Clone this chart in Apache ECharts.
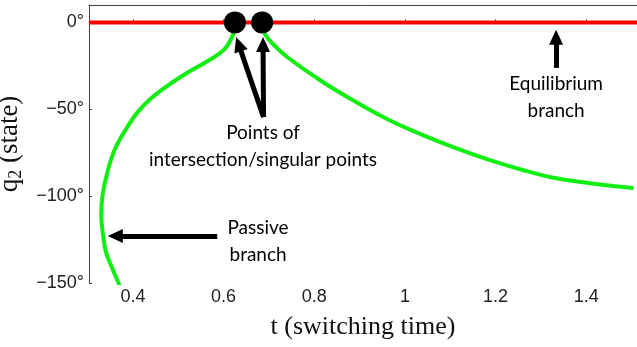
<!DOCTYPE html>
<html>
<head>
<meta charset="utf-8">
<script src="https://cdn.jsdelivr.net/npm/echarts@6/dist/echarts.min.js"></script>
<style>
  html, body { margin: 0; padding: 0; background: #fff; }
  #chart { width: 637px; height: 347px; }
</style>
</head>
<body>
<div id="chart"></div>
<script>
// ---- data ----
const xRange = [0.303, 1.512];
const yRange = [-150, 10];
const xTicks = [0.4, 0.6, 0.8, 1, 1.2, 1.4];
const yTicks = [-150, -100, -50, 0];

// passive branch (green, left part), ordered from bottom to the first singular point
const passiveBranch = [
  [0.372, -153], [0.368, -150], [0.354, -141.4], [0.340, -131.8], [0.333, -120.3],
  [0.330, -110.7], [0.333, -99.2], [0.344, -85.8], [0.360, -73], [0.387, -60.5],
  [0.410, -51.8], [0.439, -44], [0.476, -36.5], [0.520, -29], [0.564, -22.4],
  [0.601, -15.7], [0.620, -7.5], [0.625, -2]
];
// green right part, from the second singular point to the right edge
const rightBranch = [
  [0.686, -2], [0.692, -7.1], [0.714, -13.8], [0.743, -20.5], [0.817, -34],
  [0.890, -45.5], [0.964, -56], [1.037, -64.6], [1.111, -72.3], [1.184, -79],
  [1.258, -84.8], [1.331, -89.6], [1.404, -92.4], [1.504, -95.3]
];
// equilibrium branch (red)
const equilibriumBranch = [[0.303, 0], [1.512, 0]];
// singular points (black dots)
const singularPoints = [[0.625, 0], [0.685, 0]];

// annotation arrows: [from, to] in data coordinates
const arrows = [
  [[0.586, -122.9], [0.361, -122.9]],
  [[1.3335, -26.2], [1.3335, -8.5]],
  [[0.688, -54.5], [0.633, -12.5]],
  [[0.688, -54.5], [0.687, -12.7]]
];
// annotation texts: [t, q, text]
const notes = [
  [0.687, -71.6, 'Points of\nintersection/singular points'],
  [0.676, -126.3, 'Passive\nbranch'],
  [1.3335, -43.1, 'Equilibrium\nbranch']
];

const axisColor = '#444';
const fmtY = v => (v < 0 ? '\u2212' : '') + Math.abs(v) + '\u00b0';

const chart = echarts.init(document.getElementById('chart'), null, { renderer: 'canvas' });
chart.setOption({
  animation: false,
  backgroundColor: '#fff',
  grid: { left: 89, right: 0, top: 5, bottom: 64, containLabel: false, outerBoundsMode: 'none' },
  xAxis: [{
    type: 'value', min: xRange[0], max: xRange[1], position: 'bottom',
    name: 't (switching time)', nameLocation: 'middle', nameGap: 31,
    nameTextStyle: { fontFamily: 'Liberation Serif', fontSize: 26, color: '#111' },
    axisLine: { show: true, lineStyle: { color: axisColor, width: 1 } },
    axisTick: { show: true, inside: true, length: 3, customValues: xTicks, lineStyle: { color: axisColor } },
    axisLabel: { customValues: xTicks, margin: 5, fontFamily: 'Liberation Sans', fontSize: 18, color: '#222',
                 formatter: v => String(v) },
    splitLine: { show: false }
  }, {
    type: 'value', min: xRange[0], max: xRange[1], position: 'top',
    axisLine: { show: true, lineStyle: { color: axisColor, width: 1 } },
    axisTick: { show: false }, axisLabel: { show: false }, splitLine: { show: false }
  }],
  yAxis: {
    type: 'value', min: yRange[0], max: yRange[1],
    name: '{a|q}{s|2}{a| (state)}', nameLocation: 'middle', nameGap: 48, nameRotate: 90,
    nameTextStyle: {
      rich: {
        a: { fontFamily: 'Liberation Serif', fontSize: 27, color: '#111' },
        s: { fontFamily: 'Liberation Serif', fontSize: 18, color: '#111', padding: [12, 0, 0, 0] }
      }
    },
    axisLine: { show: true, lineStyle: { color: axisColor, width: 1 } },
    axisTick: { show: true, inside: true, length: 3, customValues: yTicks, lineStyle: { color: axisColor } },
    axisLabel: { customValues: yTicks, margin: 5, fontFamily: 'Liberation Sans', fontSize: 18, color: '#222',
                 formatter: fmtY },
    splitLine: { show: false }
  },
  series: [
    {
      type: 'line', name: 'equilibrium', data: equilibriumBranch, symbol: 'none',
      lineStyle: { color: '#ff0000', width: 4 }, z: 2
    },
    {
      type: 'line', name: 'passive', data: passiveBranch, symbol: 'none', smooth: 0.4, clip: true,
      lineStyle: { color: '#11ee11', width: 4 }, z: 3
    },
    {
      type: 'line', name: 'right', data: rightBranch, symbol: 'none', smooth: 0.4, clip: true,
      lineStyle: { color: '#11ee11', width: 4 }, z: 3
    },
    {
      type: 'scatter', name: 'singular', data: singularPoints, symbol: 'circle', symbolSize: 22,
      itemStyle: { color: '#000', opacity: 1 }, z: 5
    },
    {
      type: 'scatter', name: 'notes', symbolSize: 0, z: 6, silent: true,
      itemStyle: { opacity: 1 },
      data: notes.map(n => ({ value: [n[0], n[1]], text: n[2] })),
      label: {
        show: true, position: 'inside', color: '#000',
        fontFamily: 'Lato', fontSize: 19, lineHeight: 27, align: 'center',
        formatter: p => p.data.text
      },
      markLine: {
        silent: true, symbol: ['none', 'triangle'], symbolSize: [14, 15],
        label: { show: false },
        lineStyle: { color: '#000', width: 5, type: 'solid', opacity: 1 },
        itemStyle: { color: '#000', opacity: 1 },
        data: arrows.map(a => [{ coord: a[0] }, { coord: a[1] }])
      }
    }
  ]
});
</script>
</body>
</html>
